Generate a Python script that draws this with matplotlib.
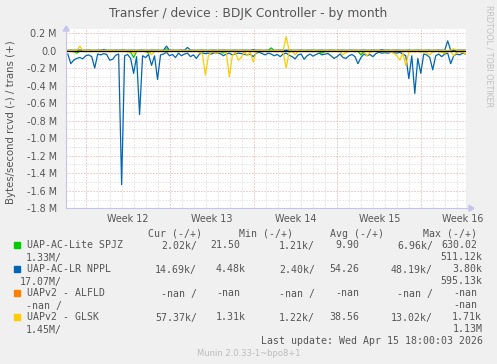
import numpy as np
import matplotlib
matplotlib.use('Agg')
import matplotlib.pyplot as plt
import matplotlib.transforms as mtransforms
from matplotlib.lines import Line2D
from matplotlib.patches import Rectangle, Polygon

# ---------------- data (kB/s, one sample every 6 hours) ----------------
t_start = -33.28          # days relative to last update
t_step = 0.25             # days

nppl_rcvd = [-40, -150, -110, -90, -80, -95, -60, -50, -70, -200,
             -40, -50, -35, -45, -110, -100, -55, -40, -1530, -60,
             -45, -90, -260, -70, -730, -60, -80, -45, -170, -60,
             -330, -50, -40, -20, -60, -45, -80, -30, -60, -40,
             -30, -70, -50, -90, -40, -30, -35, -30, -40, -25,
             -30, -35, -60, -40, -30, -50, -40, -30, -35, -45,
             -50, -40, -70, -30, -20, -35, -50, -30, -40, -60,
             -45, -70, -40, -30, -55, -70, -95, -50, -40, -100,
             -60, -40, -65, -45, -30, -50, -40, -35, -60, -90,
             -70, -40, -80, -90, -60, -45, -70, -150, -80, -40,
             -60, -45, -70, -35, -20, -30, -25, -30, -20, -25,
             -30, -20, -40, -60, -320, -60, -490, -90, -260, -40,
             -50, -80, -220, -60, -40, -70, -40, -30, -150, -60,
             -40, -50, -30, -40]
nppl_trans = [3, 4, 2, 3, 5, 3, 2, 4, 3, 2,
              3, 4, 10, 3, 2, 3, 4, 3, 5, 3,
              2, 4, 3, 2, 4, 3, 3, 2, 4, 3,
              3, 2, 5, 50, 3, 4, 2, 3, 5, 3,
              35, 4, 3, 2, 3, 4, 2, 3, 3, 4,
              2, 3, 4, 3, 2, 3, 4, 2, 3, 4,
              3, 2, 10, 3, 4, 2, 3, 4, 3, 2,
              3, 4, 2, 3, 4, 3, 2, 3, 4, 2,
              3, 4, 3, 2, 3, 4, 2, 3, 4, 3,
              2, 3, 4, 2, 3, 4, 3, 2, 3, 4,
              2, 3, 4, 3, 2, 10, 3, 4, 2, 3,
              4, 3, 2, 3, 4, 2, 3, 4, 3, 2,
              3, 4, 2, 3, 4, 3, 2, 110, 4, 3,
              2, 3, 4, 3]

glsk_rcvd = [-10, -8, -15, -12, -5, -10, -8, -12, -10, -6,
             -10, -12, -8, -10, -15, -10, -8, -12, -10, -8,
             -20, -10, -30, -12, -8, -10, -15, -10, -50, -10,
             -8, -12, -10, -15, -10, -8, -10, -12, -10, -8,
             -10, -12, -8, -10, -20, -40, -280, -60, -15, -20,
             -30, -10, -15, -25, -300, -60, -20, -110, -80, -15,
             -60, -20, -130, -15, -10, -8, -12, -10, -8, -10,
             -15, -10, -20, -200, -15, -10, -50, -10, -8, -12,
             -10, -8, -15, -10, -12, -8, -10, -15, -10, -8,
             -12, -10, -50, -20, -10, -8, -12, -10, -15, -10,
             -60, -20, -10, -8, -12, -10, -15, -10, -20, -30,
             -60, -110, -30, -170, -20, -10, -15, -10, -20, -15,
             -25, -50, -15, -10, -15, -20, -30, -15, -10, -60,
             -20, -15, -20, -40]
glsk_trans = [2, 1, 2, 1, 50, 2, 1, 2, 1, 2,
              1, 2, 1, 2, 1, 2, 1, 2, 1, 2,
              1, 2, 1, 2, 1, 2, 1, 2, 1, 2,
              1, 2, 1, 2, 1, 2, 1, 2, 1, 2,
              1, 2, 1, 2, 1, 2, 1, 2, 1, 2,
              1, 2, 1, 2, 1, 2, 1, 2, 1, 2,
              1, 2, 1, 2, 1, 2, 1, 2, 1, 2,
              1, 2, 1, 160, 2, 1, 2, 1, 2, 1,
              2, 1, 2, 1, 2, 1, 2, 1, 2, 1,
              2, 1, 2, 1, 2, 1, 2, 1, 2, 1,
              2, 1, 2, 1, 2, 1, 2, 1, 2, 1,
              2, 1, 2, 1, 2, 1, 2, 1, 2, 1,
              2, 1, 2, 1, 2, 1, 2, 1, 2, 20,
              2, 1, 2, 1]

spjz_rcvd = [-8, -10, -12, -30, -8, -6, -10, -8, -12, -8,
             -6, -10, -8, -6, -10, -8, -12, -8, -6, -10,
             -8, -20, -80, -10, -8, -6, -10, -30, -8, -10,
             -6, -8, -10, -8, -6, -10, -8, -12, -8, -6,
             -10, -8, -6, -10, -8, -12, -8, -6, -10, -8,
             -6, -10, -30, -8, -6, -10, -8, -12, -8, -6,
             -10, -8, -6, -10, -8, -12, -8, -6, -10, -8,
             -6, -10, -8, -6, -10, -8, -12, -8, -6, -10,
             -8, -6, -10, -8, -12, -30, -8, -6, -10, -8,
             -6, -10, -8, -6, -10, -8, -12, -8, -50, -10,
             -8, -6, -10, -8, -12, -8, -6, -10, -8, -6,
             -10, -8, -12, -8, -6, -10, -8, -6, -10, -8,
             -12, -8, -6, -10, -8, -12, -30, -8, -6, -10,
             -8, -6, -10, -8]
spjz_trans = [0.5] * 33 + [20] + [0.5] * 34 + [30] + [0.5] * 65

series_names = ["UAP-AC-Lite SPJZ", "UAP-AC-LR NPPL", "UAPv2 - ALFLD", "UAPv2 - GLSK"]
series_colors = ["#00CC00", "#0066B3", "#FF8000", "#FFCC00"]
legend_values = [
    ["2.02k/", "21.50", "1.21k/", "9.90", "6.96k/", "630.02", "1.33M/", "511.12k"],
    ["14.69k/", "4.48k", "2.40k/", "54.26", "48.19k/", "3.80k", "17.07M/", "595.13k"],
    ["-nan /", "-nan", "-nan /", "-nan", "-nan /", "-nan", "-nan /", "-nan"],
    ["57.37k/", "1.31k", "1.22k/", "38.56", "13.02k/", "1.71k", "1.45M/", "1.13M"],
]
week_labels = ["Week 12", "Week 13", "Week 14", "Week 15", "Week 16"]
week_label_pos = [-28.25, -21.25, -14.25, -7.25, -0.25]
title = "Transfer / device : BDJK Controller - by month"
ylabel = "Bytes/second rcvd (-) / trans (+)"

# ---------------- figure ----------------
W, H = 497, 364
fig = plt.figure(figsize=(W / 100, H / 100), dpi=100, facecolor='#F0F0F0')
ax = fig.add_axes([66 / W, 1 - 208.3 / H, 400 / W, (208.3 - 28.6) / H])
ax.set_facecolor('white')
XMIN, XMAX = -33.43, 0.0
ax.set_xlim(XMIN, XMAX)
ax.set_ylim(-1.8e6, 0.25e6)
for s in ax.spines.values():
    s.set_visible(False)

# pixel transform (origin top-left)
PX = mtransforms.Affine2D().scale(1 / W, -1 / H).translate(0, 1) + fig.transFigure

minor_c = '#D4D4D4'
major_c = '#E9A3A3'
dots = (0, (1, 2))
# vertical grid: days minor, Sundays major
for d in np.arange(-0.75, XMIN, -1.0):
    is_major = abs(((-d - 3.75) / 7) - round((-d - 3.75) / 7)) < 1e-6
    ax.axvline(d, color=major_c if is_major else minor_c, lw=0.72, ls=dots, zorder=0.5)
# horizontal grid
for v in np.arange(-1.8e6, 0.25e6, 0.1e6):
    k = int(round(v / 1e5))
    if k == 0:
        continue
    ax.axhline(v, color=major_c if k % 2 == 0 else minor_c, lw=0.72, ls=dots, zorder=0.5)

t = t_start + t_step * np.arange(len(nppl_rcvd))
data = [(spjz_rcvd, spjz_trans), (nppl_rcvd, nppl_trans), (None, None), (glsk_rcvd, glsk_trans)]
for (rc, tr), col in zip(data, series_colors):
    if rc is None:
        continue
    ax.plot(t, np.array(rc) * 1000.0, color=col, lw=0.9, zorder=2)
    ax.plot(t, np.array(tr) * 1000.0, color=col, lw=0.9, zorder=2)
ax.axhline(0, color='black', lw=0.9, zorder=3)

# ticks
yt = np.arange(-1.8e6, 0.21e6, 0.2e6)
ax.set_yticks(yt)
ax.set_yticklabels(["0.0" if abs(v) < 1 else "%.1f M" % (v / 1e6) for v in yt])
ax.set_xticks(week_label_pos)
ax.set_xticklabels(week_labels)
ax.tick_params(axis='both', length=0, labelsize=6.9, colors='#555555')
ax.tick_params(axis='y', pad=6.5)
ax.tick_params(axis='x', pad=4)

# axis lines with arrows
axc = '#C4C4EC'
fig.add_artist(Line2D([66, 470], [208.3, 208.3], color=axc, lw=0.8, transform=PX))
fig.add_artist(Line2D([66.3, 66.3], [208.3, 30], color=axc, lw=0.8, transform=PX))
fig.add_artist(Polygon([[469, 205.3], [474, 208.3], [469, 211.3]], closed=True, color=axc, transform=PX))
fig.add_artist(Polygon([[63.3, 31], [66.3, 26], [69.3, 31]], closed=True, color=axc, transform=PX))

# texts
fig.text(248.5 / W, 1 - 13 / H, title, ha='center', va='center', fontsize=8.8, color='#555555')
fig.text(11 / W, 1 - 122 / H, ylabel, ha='center', va='center', rotation=90, fontsize=7.3, color='#555555')
fig.text(489 / W, 1 - 5 / H, "RRDTOOL / TOBI OETIKER", ha='center', va='top', rotation=270,
         fontsize=5.8, color='#C0C0C0')

mono = dict(family='DejaVu Sans Mono', fontsize=7.1, color='#555555')
hdr_y = 233.7
for lbl, xr in zip(["Cur (-/+)", "Min (-/+)", "Avg (-/+)", "Max (-/+)"], [202, 293, 384, 477]):
    fig.text(xr / W, 1 - hdr_y / H, lbl, ha='right', va='center', **mono)

row_y = [245.5, 269.5, 293.5, 317.5]
for r, (name, col, vals) in enumerate(zip(series_names, series_colors, legend_values)):
    y = row_y[r]
    fig.add_artist(Rectangle((14, y - 3.5), 6, 6, color=col, transform=PX))
    fig.text(27 / W, 1 - y / H, name, ha='left', va='center', **mono)
    fig.text(197 / W, 1 - y / H, vals[0], ha='right', va='center', **mono)
    x2 = 246 if vals[1].endswith('k') else 240
    fig.text(x2 / W, 1 - y / H, vals[1], ha='right', va='center', **mono)
    fig.text(315 / W, 1 - y / H, vals[2], ha='right', va='center', **mono)
    fig.text(359 / W, 1 - y / H, vals[3], ha='right', va='center', **mono)
    fig.text(433 / W, 1 - y / H, vals[4], ha='right', va='center', **mono)
    x6 = 482 if vals[5].endswith('k') else 477
    fig.text(x6 / W, 1 - y / H, vals[5], ha='right', va='center', **mono)
    fig.text(62 / W, 1 - (y + 12) / H, vals[6], ha='right', va='center', **mono)
    x8 = 477 if vals[7] == "-nan" else 482.5
    fig.text(x8 / W, 1 - (y + 12) / H, vals[7], ha='right', va='center', **mono)

fig.text(483 / W, 1 - 341.5 / H, "Last update: Wed Apr 15 18:00:03 2026", ha='right', va='center', **mono)
fig.text(248.5 / W, 1 - 353.3 / H, "Munin 2.0.33-1~bpo8+1", ha='center', va='center', fontsize=6.0,
         color='#BBBBBB')

fig.savefig('out.png', dpi=100, facecolor=fig.get_facecolor())
